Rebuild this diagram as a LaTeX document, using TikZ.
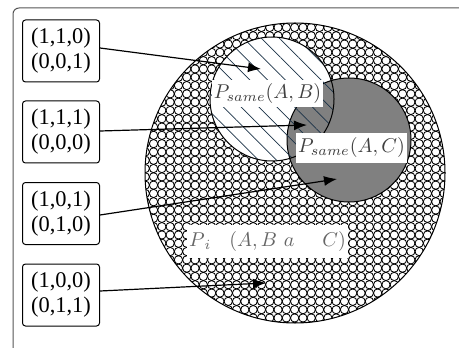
\documentclass[tikz,border=0pt]{standalone}
\usepackage{fontspec}
\newfontfamily\boxfont{Liberation Serif}
\usetikzlibrary{patterns,patterns.meta,arrows.meta}
\pgfdeclarepatternformonly{circgrid}{\pgfqpoint{-1pt}{-1pt}}{\pgfqpoint{5.15pt}{5.15pt}}{\pgfqpoint{4.15pt}{4.15pt}}{%
  \pgfsetlinewidth{0.42pt}%
  \pgfpathcircle{\pgfqpoint{2.075pt}{2.075pt}}{2.075pt}%
  \pgfusepath{stroke}}
\definecolor{hatchc}{HTML}{1C3348}
\definecolor{framec}{HTML}{555555}
\tikzset{
  valbox/.style={draw, rounded corners=1.5pt, line width=0.5pt, minimum width=38.5pt, minimum height=31pt, align=center, inner sep=1pt, font=\boxfont\fontsize{11.2}{12.5}\selectfont},
  lbl/.style={fill=white, inner sep=1pt, text=black!75},
  arr/.style={line width=0.6pt, -{Latex[length=6.5pt,width=5pt]}},
}
\begin{document}
\begin{tikzpicture}[x=0.5pt,y=-0.5pt]
\useasboundingbox (0,0) rectangle (459,347);
% frame
\draw[framec, line width=0.5pt, rounded corners=3pt] (13,360) -- (13,8) -- (470,8);
% big circle with circle grid pattern
\node[circle, minimum size=150pt, inner sep=0pt, fill=white] (U) at (295,173) {};
\fill[pattern=circgrid] (295,173) circle[radius=75pt];
\draw[line width=0.5pt] (295,173) circle[radius=75pt];
% circle B
\node[circle, minimum size=62pt, inner sep=0pt, fill=white] (B) at (272,99) {};
% circle C
\node[circle, minimum size=62pt, inner sep=0pt, fill=black!50, draw, line width=0.5pt] (C) at (349,140) {};
% hatch on B
\fill[pattern={Lines[angle=-45,distance=6.3pt,line width=0.35pt]}, pattern color=hatchc] (272,99) circle[radius=31pt];
\draw[line width=0.5pt] (272,99) circle[radius=31pt];
% labels
\node[lbl, minimum width=52.5pt, minimum height=13.5pt] (LB) at (267.5,93.5) {$P_{same}(A,B)$};
\node[lbl, minimum width=50.5pt, minimum height=15pt] (LC) at (351.5,148) {$P_{same}(A,C)$};
\node[lbl, text=black!60, minimum width=79.5pt, minimum height=16.5pt] (LI) at (267.5,241.5) {$P_{\,i}\hspace{9pt}(A,B\ a\hspace{14pt}C)$};
% value boxes
\node[valbox] (b1) at (61,51) {(1,1,0)\\(0,0,1)};
\node[valbox] (b2) at (61,132) {(1,1,1)\\(0,0,0)};
\node[valbox] (b3) at (61,213.5) {(1,0,1)\\(0,1,0)};
\node[valbox] (b4) at (61,295) {(1,0,0)\\(0,1,1)};
% arrow targets
\coordinate (t1) at (261,69);
\coordinate (t2) at (307,125);
\coordinate (t3) at (337,179);
\coordinate (t4) at (266,283);
\draw[arr] (b1.east) ++(0,-3) -- (t1);
\draw[arr] (b2.east) ++(0,-1) -- (t2);
\draw[arr] (b3.east) ++(0,1.5) -- (t3);
\draw[arr] (b4.east) ++(0,-4) -- (t4);
\end{tikzpicture}
\end{document}
